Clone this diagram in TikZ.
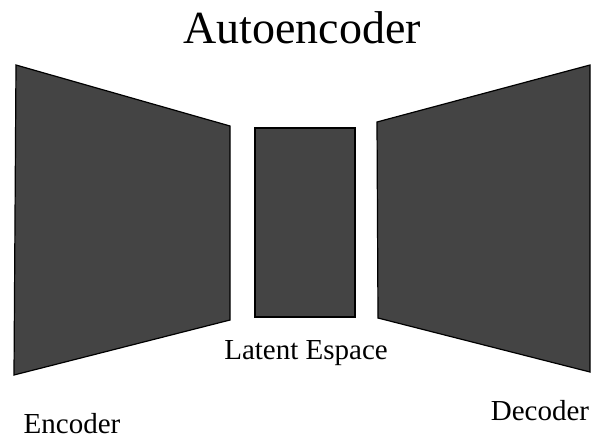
\documentclass[tikz,border=0pt]{standalone}
\usepackage{fontspec}
\setmainfont{Liberation Serif}
\definecolor{blockgray}{RGB}{68,68,68}
\tikzset{
  block/.style={fill=blockgray, draw=black, line width=1.2pt, line join=miter},
  caption/.style={anchor=base, inner sep=0pt, font=\fontsize{29}{32}\selectfont}
}
\begin{document}
\begin{tikzpicture}[x=1pt,y=-1pt]
            \useasboundingbox (0,0) rectangle (593,440);

            % encoder
            \coordinate (EncTL) at (16,65);
            \coordinate (EncTR) at (230,126);
            \coordinate (EncBR) at (230,320);
            \coordinate (EncBL) at (14,375);

            % latent space
            \coordinate (LatTL) at (255,128);
            \coordinate (LatBR) at (355,317);

            % decoder
            \coordinate (DecTL) at (377,122);
            \coordinate (DecTR) at (590,65);
            \coordinate (DecBR) at (590,372);
            \coordinate (DecBL) at (378,318);

            \filldraw[block] (EncTL) -- (EncTR) -- (EncBR) -- (EncBL) -- cycle;
            \filldraw[block] (LatTL) rectangle (LatBR);
            \filldraw[block] (DecTL) -- (DecTR) -- (DecBR) -- (DecBL) -- cycle;

            \node [caption, font=\fontsize{46}{50}\selectfont] (title) at (302,43) {Autoencoder};
            \node [caption] (latent) at (306,359) {Latent Espace};
            \node [caption] (enc) at (72,433) {Encoder};
            \node [caption] (dec) at (540,420) {Decoder};
\end{tikzpicture}
\end{document}
